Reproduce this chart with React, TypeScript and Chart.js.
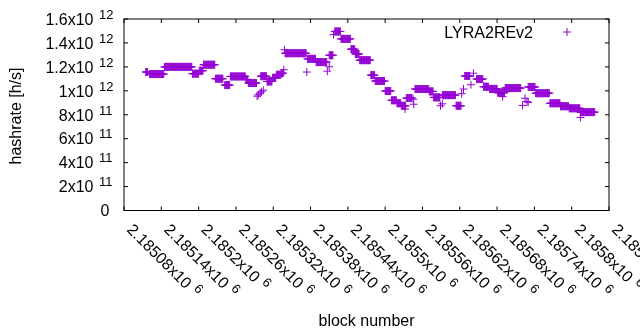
import React, { useEffect, useRef } from "react";
import { Chart, registerables } from "chart.js";

Chart.register(...registerables);

// Runs of consecutive blocks sharing (approximately) one hashrate value
const runFrom = [
  2185115, 2185121, 2185145, 2185190, 2185201, 2185208, 2185227, 2185242, 2185251, 2185276,
  2185280, 2185294, 2185296, 2185299, 2185301, 2185304, 2185300, 2185310, 2185319, 2185325,
  2185333, 2185337, 2185338, 2185339, 2185374, 2185375, 2185389, 2185407, 2185410, 2185410,
  2185417, 2185419, 2185429, 2185445, 2185452, 2185459, 2185477, 2185484, 2185500, 2185510,
  2185519, 2185526, 2185532, 2185534, 2185545, 2185546, 2185548, 2185571, 2185578, 2185589,
  2185592, 2185592, 2185614, 2185623, 2185626, 2185628, 2185638, 2185642, 2185647, 2185658,
  2185668, 2185681, 2185689, 2185693, 2185721, 2185725, 2185728, 2185730, 2185730, 2185742,
  2185765, 2185782, 2185796, 2185814, 2185814,
];
const runTo = [
  2185118, 2185144, 2185189, 2185200, 2185207, 2185226, 2185239, 2185250, 2185275, 2185279,
  2185293, 2185294, 2185296, 2185299, 2185301, 2185304, 2185309, 2185318, 2185324, 2185332,
  2185336, 2185337, 2185338, 2185373, 2185374, 2185388, 2185406, 2185407, 2185410, 2185416,
  2185417, 2185428, 2185444, 2185451, 2185458, 2185476, 2185483, 2185499, 2185509, 2185518,
  2185525, 2185533, 2185532, 2185543, 2185545, 2185546, 2185570, 2185577, 2185588, 2185589,
  2185592, 2185613, 2185622, 2185623, 2185626, 2185636, 2185638, 2185642, 2185657, 2185666,
  2185680, 2185692, 2185689, 2185718, 2185721, 2185725, 2185728, 2185730, 2185741, 2185764,
  2185781, 2185795, 2185813, 2185814, 2185837,
];
const runHash = [
  1.157e12, 1.14e12, 1.2e12, 1.143e12, 1.168e12, 1.218e12, 1.101e12, 1.048e12, 1.12e12, 1.095e12,
  1.065e12, 0.955e12, 0.967e12, 0.98e12, 0.992e12, 1.005e12, 1.122e12, 1.078e12, 1.109e12, 1.134e12,
  1.147e12, 1.176e12, 1.343e12, 1.314e12, 1.157e12, 1.267e12, 1.24e12, 1.164e12, 1.201e12, 1.297e12,
  1.469e12, 1.496e12, 1.434e12, 1.348e12, 1.308e12, 1.256e12, 1.131e12, 1.082e12, 0.998e12, 0.921e12,
  0.896e12, 0.875e12, 0.848e12, 0.94e12, 0.93e12, 0.888e12, 1.015e12, 0.995e12, 0.945e12, 0.875e12,
  0.891e12, 0.964e12, 0.875e12, 0.976e12, 1.015e12, 1.124e12, 1.051e12, 1.147e12, 1.098e12, 1.034e12,
  1.016e12, 0.984e12, 0.951e12, 1.023e12, 0.878e12, 0.938e12, 0.91e12, 0.904e12, 1.032e12, 0.98e12,
  0.896e12, 0.871e12, 0.854e12, 0.777e12, 0.822e12,
];

const seriesLabel = "LYRA2REv2";
const xTitle = "block number";
const yTitle = "hashrate [h/s]";

const xMin = 2185080;
const xMax = 2185860;
const xTickValues = [
  2185080, 2185140, 2185200, 2185260, 2185320, 2185380, 2185440, 2185500, 2185560, 2185620,
  2185680, 2185740, 2185800, 2185860,
];
const xTickMantissa = [
  "2.18508", "2.18514", "2.1852", "2.18526", "2.18532", "2.18538", "2.18544", "2.1855",
  "2.18556", "2.18562", "2.18568", "2.18574", "2.1858", "2.18586",
];
const xTickExponent = "6";

const yMin = 0;
const yMax = 1.6e12;
const yTickValues = [0, 2e11, 4e11, 6e11, 8e11, 1e12, 1.2e12, 1.4e12, 1.6e12];
const yTickMantissa = ["0", "2x10", "4x10", "6x10", "8x10", "1x10", "1.2x10", "1.4x10", "1.6x10"];
const yTickExponent = ["", "11", "11", "11", "11", "12", "12", "12", "12"];

const COLOR = "#9400d3";
const FONT = '"Liberation Sans", Arial, sans-serif';

const gnuplotFrame = {
  id: "gnuplotFrame",
  afterDraw(chart: any) {
    const ctx = chart.ctx as CanvasRenderingContext2D;
    const { left, right, top, bottom } = chart.chartArea;
    const xs = chart.scales.x;
    const ys = chart.scales.y;
    const main = `16px ${FONT}`;
    const sup = `13px ${FONT}`;
    ctx.save();
    ctx.strokeStyle = "#000";
    ctx.lineWidth = 1;
    ctx.strokeRect(left, top, right - left, bottom - top);
    const tl = 4;
    ctx.beginPath();
    xTickValues.forEach((v) => {
      const px = xs.getPixelForValue(v);
      ctx.moveTo(px, bottom);
      ctx.lineTo(px, bottom - tl);
      ctx.moveTo(px, top);
      ctx.lineTo(px, top + tl);
    });
    yTickValues.forEach((v) => {
      const py = ys.getPixelForValue(v);
      ctx.moveTo(left, py);
      ctx.lineTo(left + tl, py);
      ctx.moveTo(right, py);
      ctx.lineTo(right - tl, py);
    });
    ctx.stroke();

    ctx.fillStyle = "#000";
    // y tick labels
    yTickValues.forEach((v, i) => {
      const py = ys.getPixelForValue(v);
      const base = py + 5.8;
      ctx.font = main;
      ctx.textBaseline = "alphabetic";
      if (!yTickExponent[i]) {
        ctx.textAlign = "right";
        ctx.fillText(yTickMantissa[i], left - 14.5, base);
      } else {
        ctx.textAlign = "right";
        ctx.fillText(yTickMantissa[i], left - 30.5, base);
        ctx.font = sup;
        ctx.textAlign = "left";
        ctx.fillText(yTickExponent[i], left - 25, base - 6);
      }
    });
    // x tick labels, rotated clockwise
    xTickValues.forEach((v, i) => {
      const px = xs.getPixelForValue(v);
      ctx.save();
      ctx.translate(px + 2, bottom + 20);
      ctx.rotate(Math.PI / 4);
      ctx.font = main;
      ctx.textAlign = "left";
      ctx.textBaseline = "alphabetic";
      const txt = xTickMantissa[i] + "x10";
      ctx.fillText(txt, 0, 0);
      const w = ctx.measureText(txt).width;
      ctx.font = sup;
      ctx.fillText(xTickExponent, w + 5.5, -6);
      ctx.restore();
    });
    // axis titles
    ctx.font = main;
    ctx.textAlign = "center";
    ctx.textBaseline = "alphabetic";
    ctx.fillText(xTitle, (left + right) / 2, 326);
    ctx.save();
    ctx.translate(21, 116);
    ctx.rotate(-Math.PI / 2);
    ctx.fillText(yTitle, 0, 0);
    ctx.restore();
    // legend
    ctx.textAlign = "right";
    ctx.fillText(seriesLabel, 533, 37.5);
    ctx.strokeStyle = COLOR;
    ctx.beginPath();
    ctx.moveTo(563, 32);
    ctx.lineTo(571, 32);
    ctx.moveTo(567, 28);
    ctx.lineTo(567, 36);
    ctx.stroke();
    ctx.restore();
  },
};

export default function App() {
  const ref = useRef<HTMLCanvasElement | null>(null);
  useEffect(() => {
    if (!ref.current) return;
    const points: { x: number; y: number }[] = [];
    runFrom.forEach((from, i) => {
      for (let b = from; b <= runTo[i]; b++) points.push({ x: b, y: runHash[i] });
    });
    const chart = new Chart(ref.current, {
      type: "scatter",
      data: {
        datasets: [
          {
            label: seriesLabel,
            data: points,
            pointStyle: "cross",
            pointRadius: 4,
            borderWidth: 1,
            borderColor: COLOR,
            backgroundColor: COLOR,
          },
        ],
      },
      options: {
        responsive: false,
        animation: false,
        devicePixelRatio: 1,
        events: [],
        layout: { padding: { left: 124, right: 31, top: 19, bottom: 119.5 } },
        scales: {
          x: { type: "linear", min: xMin, max: xMax, display: false },
          y: { type: "linear", min: yMin, max: yMax, display: false },
        },
        plugins: { legend: { display: false }, tooltip: { enabled: false } },
      },
      plugins: [gnuplotFrame],
    });
    return () => chart.destroy();
  }, []);
  return (
    <div style={{ position: "absolute", left: 0, top: 0, width: 640, height: 330, background: "#fff" }}>
      <canvas ref={ref} width={640} height={330} />
    </div>
  );
}
